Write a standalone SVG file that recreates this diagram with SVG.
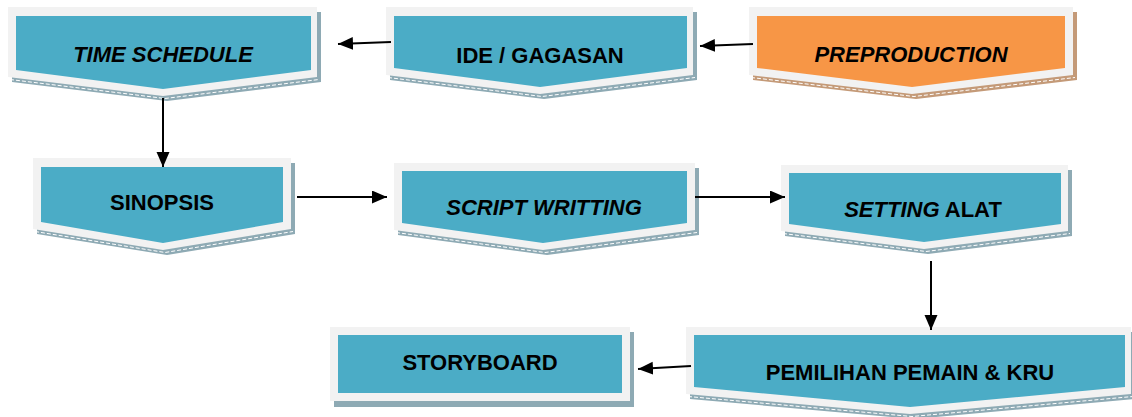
<svg xmlns="http://www.w3.org/2000/svg" width="1132" height="417" viewBox="0 0 1132 417">
<style>
.outer{fill:#f2f2f2}
.teal{fill:#4bacc6}
.orange{fill:#f79646}
.sh{fill:#8eaab4}
.sho{fill:#c49a78}
.dash{fill:none;stroke:#ffffff;stroke-width:1;stroke-dasharray:4 2}
.lbl{font-family:"Liberation Sans",Arial,sans-serif;font-size:22px;font-weight:bold;fill:#000;text-anchor:middle}
.it{font-style:italic}
.conn line{stroke:#000;stroke-width:2;marker-end:url(#ah)}
</style>
<defs>
<marker id="ah" markerUnits="userSpaceOnUse" markerWidth="16" markerHeight="14" refX="15" refY="6.5" orient="auto">
<path d="M0,0 L15,6.5 L0,13 z" fill="#000"/>
</marker>
</defs>
<rect width="1132" height="417" fill="#ffffff"/>

<g id="time-schedule">
<polygon class="sh" points="12,12 321,12 321,82 167,101 12,82"/>
<polyline class="dash" points="10,79.5 165,98.5 319,79.5"/>
<polygon class="outer" points="8,7 317,7 317,77 163,96 8,77"/>
<polygon class="teal" points="16,16 311,16 311,70 163,89 16,70"/>
<text class="lbl it" x="163" y="62">TIME SCHEDULE</text>
</g>

<g id="ide-gagasan">
<polygon class="sh" points="390,12 697,12 697,80 544,99 390,80"/>
<polyline class="dash" points="388,77.5 542,96.5 695,77.5"/>
<polygon class="outer" points="386,7 693,7 693,75 540,94 386,75"/>
<polygon class="teal" points="394,16 687,16 687,68 540,87 394,68"/>
<text class="lbl" x="540" y="63">IDE / GAGASAN</text>
</g>

<g id="preproduction">
<polygon class="sho" points="753,12 1077,12 1077,80 916,99 753,80"/>
<polyline class="dash" points="751,77.5 914,96.5 1075,77.5"/>
<polygon class="outer" points="749,7 1073,7 1073,75 912,94 749,75"/>
<polygon class="orange" points="757,16 1065,16 1065,68 912,87 757,68"/>
<text class="lbl it" x="911" y="62">PREPRODUCTION</text>
</g>

<g id="sinopsis">
<polygon class="sh" points="37,163 295,163 295,234 167,255 37,234"/>
<polyline class="dash" points="35,231.5 165,252.5 293,231.5"/>
<polygon class="outer" points="33,158 291,158 291,229 163,250 33,229"/>
<polygon class="teal" points="41,167 283,167 283,222 163,243 41,222"/>
<text class="lbl" x="162" y="210">SINOPSIS</text>
</g>

<g id="script-writting">
<polygon class="sh" points="398,168 699,168 699,235 547,255 398,235"/>
<polyline class="dash" points="396,232.5 545,252.5 697,232.5"/>
<polygon class="outer" points="394,163 695,163 695,230 543,250 394,230"/>
<polygon class="teal" points="402,171 687,171 687,223 543,243 402,223"/>
<text class="lbl it" x="544" y="215">SCRIPT WRITTING</text>
</g>

<g id="setting-alat">
<polygon class="sh" points="785,170 1072,170 1072,236 928,254 785,236"/>
<polyline class="dash" points="783,233.5 926,251.5 1070,233.5"/>
<polygon class="outer" points="781,165 1068,165 1068,231 924,249 781,231"/>
<polygon class="teal" points="789,173 1061,173 1061,224 924,242 789,224"/>
<text class="lbl" x="923" y="217"><tspan class="it">SETTING</tspan> ALAT</text>
</g>

<g id="pemilihan">
<polygon class="sh" points="690,332 1135,332 1135,399 914,419 690,399"/>
<polyline class="dash" points="688,396.5 912,416.5 1133,396.5"/>
<polygon class="outer" points="686,327 1131,327 1131,394 910,414 686,394"/>
<polygon class="teal" points="694,335 1125,335 1125,387 910,407 694,387"/>
<text class="lbl" x="910" y="380">PEMILIHAN PEMAIN &amp; KRU</text>
</g>

<g id="storyboard">
<rect class="sh" x="334" y="332" width="300" height="75"/>
<rect class="outer" x="330" y="327" width="300" height="74"/>
<rect class="teal" x="338" y="335" width="284" height="58"/>
<text class="lbl" x="480" y="370">STORYBOARD</text>
</g>

<g id="connectors" class="conn">
<line x1="753" y1="44" x2="700" y2="46"/>
<line x1="391" y1="42" x2="338" y2="44"/>
<line x1="163" y1="98" x2="163" y2="167"/>
<line x1="297" y1="197" x2="387" y2="197"/>
<line x1="695" y1="197" x2="785" y2="197"/>
<line x1="931" y1="261" x2="931" y2="330"/>
<line x1="691" y1="366" x2="638" y2="369"/>
</g>
</svg>
